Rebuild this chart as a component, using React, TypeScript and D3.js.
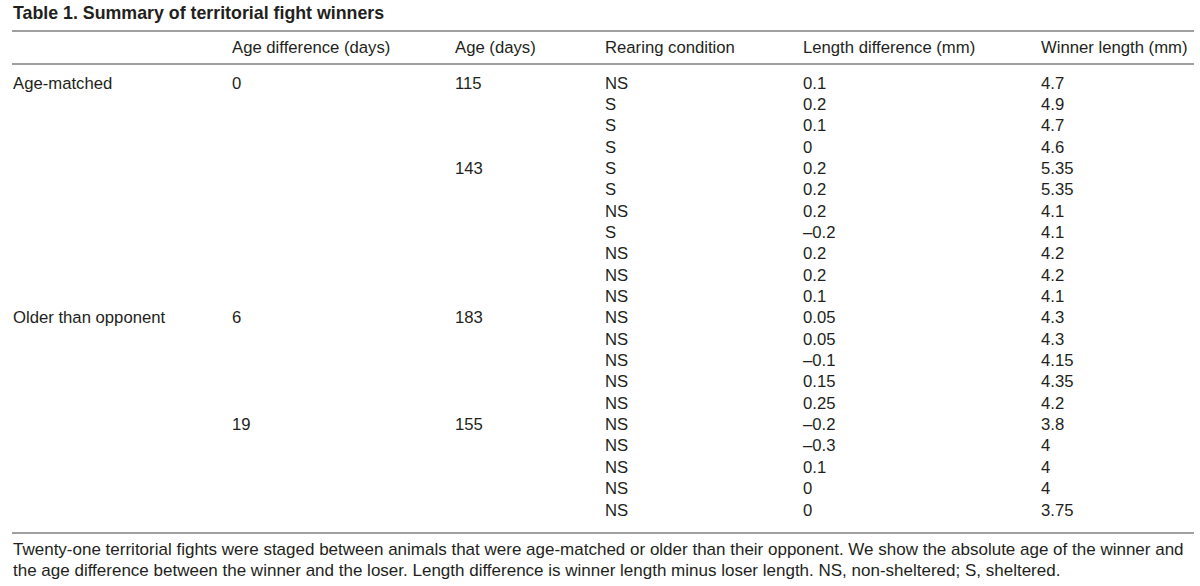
import React from "react";
import * as d3 from "d3";

const title = "Table 1. Summary of territorial fight winners";
const headers = ["", "Age difference (days)", "Age (days)", "Rearing condition", "Length difference (mm)", "Winner length (mm)"];
const groups = ["Age-matched", "", "", "", "", "", "", "", "", "", "", "Older than opponent", "", "", "", "", "", "", "", "", ""];
const ageDiff = ["0", "", "", "", "", "", "", "", "", "", "", "6", "", "", "", "", "19", "", "", "", ""];
const age = ["115", "", "", "", "143", "", "", "", "", "", "", "183", "", "", "", "", "155", "", "", "", ""];
const rearing = ["NS", "S", "S", "S", "S", "S", "NS", "S", "NS", "NS", "NS", "NS", "NS", "NS", "NS", "NS", "NS", "NS", "NS", "NS", "NS"];
const lengthDiff = ["0.1", "0.2", "0.1", "0", "0.2", "0.2", "0.2", "–0.2", "0.2", "0.2", "0.1", "0.05", "0.05", "–0.1", "0.15", "0.25", "–0.2", "–0.3", "0.1", "0", "0"];
const winnerLength = ["4.7", "4.9", "4.7", "4.6", "5.35", "5.35", "4.1", "4.1", "4.2", "4.2", "4.1", "4.3", "4.3", "4.15", "4.35", "4.2", "3.8", "4", "4", "4", "3.75"];
const footnote = [
  "Twenty-one territorial fights were staged between animals that were age-matched or older than their opponent. We show the absolute age of the winner and",
  "the age difference between the winner and the loser. Length difference is winner length minus loser length. NS, non-sheltered; S, sheltered.",
];

const columns = [groups, ageDiff, age, rearing, lengthDiff, winnerLength];
const colX = [13, 232, 455, 605, 803, 1041];

export default function App() {
  const W = 1200, H = 586;
  const rowIdx = d3.range(rearing.length);
  const y = d3.scaleLinear().domain([0, rearing.length - 1]).range([88.5, 515.5]);
  const x = d3.scaleOrdinal<number, number>().domain(d3.range(columns.length)).range(colX);
  const font = "'Liberation Sans', Arial, Helvetica, sans-serif";
  const color = "#231f20";
  const ruleColor = "#808080";
  const fs = 16.7;
  return (
    <svg width={W} height={H} style={{ position: "absolute", left: 0, top: 0, background: "#fff" }} fontFamily={font}>
      <rect width={W} height={H} fill="#fff" />
      <text x={13} y={19} fontSize={17.8} fontWeight="bold" fill={color}>{title}</text>
      <line x1={12} x2={1194} y1={31} y2={31} stroke={ruleColor} strokeWidth={1.5} />
      {headers.map((h, i) => (
        <text key={"h" + i} x={x(i)} y={53} fontSize={fs} fill={color}>{h}</text>
      ))}
      <line x1={12} x2={1194} y1={64} y2={64} stroke={ruleColor} strokeWidth={1.5} />
      {columns.map((col, ci) =>
        rowIdx.map((ri) =>
          col[ri] ? (
            <text key={ci + "-" + ri} x={x(ci)} y={y(ri)} fontSize={fs} fill={color}>{col[ri]}</text>
          ) : null
        )
      )}
      <line x1={12} x2={1194} y1={533} y2={533} stroke={ruleColor} strokeWidth={1.5} />
      {footnote.map((t, i) => (
        <text key={"f" + i} x={13} y={555 + i * 21} fontSize={17} fill={color}>{t}</text>
      ))}
    </svg>
  );
}
